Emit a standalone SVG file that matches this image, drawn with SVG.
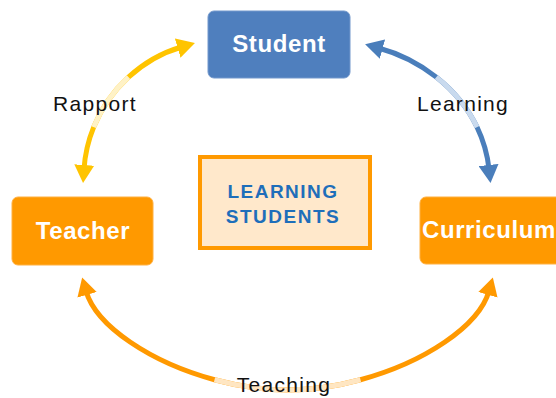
<svg xmlns="http://www.w3.org/2000/svg" width="556" height="398" viewBox="0 0 556 398">
<style>
.node-label{font-family:"Liberation Sans",Arial,sans-serif;font-weight:bold;font-size:24px;fill:#ffffff;text-anchor:middle;letter-spacing:0.6px}
.edge-label{font-family:"Liberation Sans",Arial,sans-serif;font-size:21px;fill:#111111;text-anchor:middle;letter-spacing:1.3px}
.center-label{font-family:"Liberation Sans",Arial,sans-serif;font-weight:bold;font-size:19px;fill:#1E6EBA;text-anchor:middle;letter-spacing:1.5px}
.arc{fill:none;stroke-width:5}
.fade{fill:none;stroke-width:5}
</style>
<defs>
<marker id="ah-yellow" viewBox="0 0 18 20" markerWidth="18" markerHeight="20" refX="4" refY="10" markerUnits="userSpaceOnUse" orient="auto-start-reverse"><path d="M0,0 L18,10 L0,20 Z" fill="#FFC400"/></marker>
<marker id="ah-blue" viewBox="0 0 18 20" markerWidth="18" markerHeight="20" refX="4" refY="10" markerUnits="userSpaceOnUse" orient="auto-start-reverse"><path d="M0,0 L18,10 L0,20 Z" fill="#4A7EBB"/></marker>
<marker id="ah-orange" viewBox="0 0 18 20" markerWidth="18" markerHeight="20" refX="4" refY="10" markerUnits="userSpaceOnUse" orient="auto-start-reverse"><path d="M0,0 L18,10 L0,20 Z" fill="#FF9900"/></marker>
</defs>
<rect width="556" height="398" fill="#ffffff"/>
<g id="connectors">
<g id="edge-rapport">
<path class="arc" stroke="#FFC400" marker-start="url(#ah-yellow)" marker-end="url(#ah-yellow)" d="M84 169 C85 154.25 88.375 140.19 93.68 127.16 C101.53 107.87 113.61 90.84 128.47 77.19 C143.73 63.16 161.93 52.7 181.5 47"/>
<path class="fade" stroke="#FFF2C6" d="M93.68 127.16 C101.53 107.87 113.61 90.84 128.47 77.19"/>
<text class="edge-label" x="95" y="111">Rapport</text>
</g>
<g id="edge-learning">
<path class="arc" stroke="#4A7EBB" marker-start="url(#ah-blue)" marker-end="url(#ah-blue)" d="M489 169 C487.34 153.83 483.15 139.84 477.04 127.14 C467.43 107.15 453.06 90.34 436.3 77.13 C418.78 63.33 398.65 53.46 378.6 48"/>
<path class="fade" stroke="#C9DAEE" d="M477.04 127.14 C467.43 107.15 453.06 90.34 436.3 77.13"/>
<text class="edge-label" x="463" y="111">Learning</text>
</g>
<g id="edge-teaching">
<path class="arc" stroke="#FF9900" marker-start="url(#ah-orange)" marker-end="url(#ah-orange)" d="M86 291 C96.15 326.5 151.5 362.57 214.52 379.72 C238.43 386.22 263.44 390 287.5 390 C311.56 390 336.57 386.22 360.48 379.72 C423.5 362.57 478.85 326.5 489 291"/>
<path class="fade" stroke="#FFE6C2" d="M214.52 379.72 C238.43 386.22 263.44 390 287.5 390 C311.56 390 336.57 386.22 360.48 379.72"/>
<text class="edge-label" x="284" y="392">Teaching</text>
</g>
</g>
<g id="node-student">
<rect x="208" y="11" width="142" height="67" rx="6" fill="#4F7FBE" stroke="#7398CC" stroke-width="1"/>
<text class="node-label" x="279" y="52">Student</text>
</g>
<g id="node-teacher">
<rect x="12" y="197" width="141" height="68" rx="6" fill="#FF9900" stroke="#FFB040" stroke-width="1"/>
<text class="node-label" x="83" y="239">Teacher</text>
</g>
<g id="node-curriculum">
<rect x="420" y="197" width="142" height="67" rx="6" fill="#FF9900" stroke="#FFB040" stroke-width="1"/>
<text class="node-label" x="489" y="238">Curriculum</text>
</g>
<g id="node-center">
<rect x="200" y="157" width="170" height="91" fill="#FFE8CB" stroke="#FF9900" stroke-width="4"/>
<text class="center-label" x="283" y="198">LEARNING</text>
<text class="center-label" x="283" y="223">STUDENTS</text>
</g>
</svg>
